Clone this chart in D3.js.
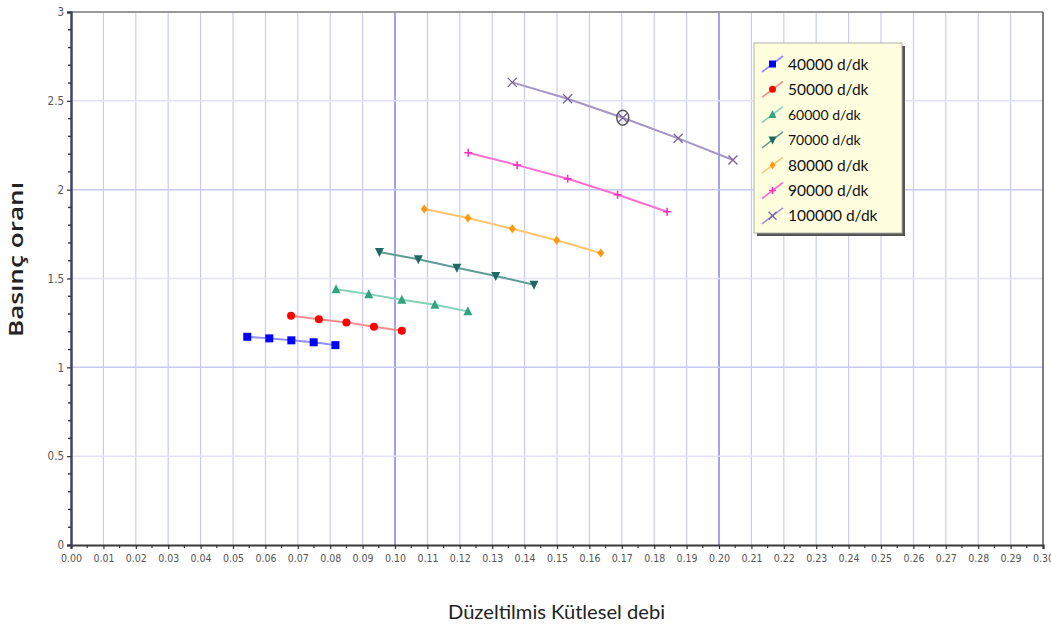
<!DOCTYPE html>
<html>
<head>
<meta charset="utf-8">
<script src="https://cdn.jsdelivr.net/npm/d3@7"></script>
<style>
  html, body { margin: 0; padding: 0; background: #fff; }
  svg { display: block; }
</style>
</head>
<body>
<svg id="chart" width="1051" height="628"></svg>
<script>
// ---- data ----
const seriesNames = ["40000 d/dk", "50000 d/dk", "60000 d/dk", "70000 d/dk", "80000 d/dk", "90000 d/dk", "100000 d/dk"];
const x40 = [0.0544, 0.0612, 0.0680, 0.0749, 0.0816];
const y40 = [1.172, 1.163, 1.152, 1.141, 1.125];
const x50 = [0.0679, 0.0765, 0.0850, 0.0935, 0.1021];
const y50 = [1.290, 1.270, 1.253, 1.228, 1.206];
const x60 = [0.0818, 0.0919, 0.1021, 0.1123, 0.1225];
const y60 = [1.439, 1.412, 1.380, 1.352, 1.315];
const x70 = [0.0952, 0.1072, 0.1191, 0.1311, 0.1429];
const y70 = [1.649, 1.608, 1.561, 1.514, 1.465];
const x80 = [0.1090, 0.1225, 0.1362, 0.1499, 0.1635];
const y80 = [1.891, 1.840, 1.780, 1.715, 1.643];
const x90 = [0.1226, 0.1377, 0.1533, 0.1687, 0.1840];
const y90 = [2.208, 2.138, 2.061, 1.971, 1.876];
const x100 = [0.1362, 0.1533, 0.1703, 0.1874, 0.2043];
const y100 = [2.604, 2.512, 2.405, 2.289, 2.167];
const highlightedPoint = [0.1703, 2.405];
const xTicks = d3.range(0, 31).map(i => i / 100);
const yTicks = [0, 0.5, 1, 1.5, 2, 2.5, 3];
const xTitle = "Düzeltilmis Kütlesel debi";
const yTitle = "Basınç oranı";

(function () {
const xs = [x40, x50, x60, x70, x80, x90, x100];
const ys = [y40, y50, y60, y70, y80, y90, y100];
const markerColors = ["#0000ff", "#ff0000", "#2fa57e", "#1e6a62", "#ff9a10", "#ff2fc0", "#7d62a0"];
const lineColors   = ["#8c8cff", "#ff8c8c", "#86d2b6", "#5e9c94", "#ffc46e", "#ff6fd2", "#a596c4"];
const shapes = ["square", "circle", "triUp", "triDown", "diamond", "plus", "cross"];

const svg = d3.select("#chart");
const pL = 71, pR = 1043, pT = 12, pB = 545;
const x = d3.scaleLinear().domain([0, 0.30]).range([pL, pR]);
const y = d3.scaleLinear().domain([0, 3]).range([pB, pT]);

// ---- grid ----
const g = svg.append("g");
g.selectAll("line.vg").data(xTicks.slice(1, -1)).join("line")
  .attr("x1", d => x(d)).attr("x2", d => x(d)).attr("y1", pT).attr("y2", pB)
  .attr("stroke", (d, i) => ((i + 1) % 10 === 0) ? "#8a8ae8" : "#c6c6fb")
  .attr("stroke-width", (d, i) => ((i + 1) % 10 === 0) ? 1.6 : 1.1);
g.selectAll("line.hg").data(yTicks.slice(1, -1)).join("line")
  .attr("x1", pL).attr("x2", pR).attr("y1", d => y(d)).attr("y2", d => y(d))
  .attr("stroke", d => Number.isInteger(d) ? "#c8c8f2" : "#e2e2f8")
  .attr("stroke-width", 1.5);

// top and right borders
svg.append("line").attr("x1", pL).attr("x2", pR).attr("y1", pT).attr("y2", pT)
  .attr("stroke", "#9a9a9a").attr("stroke-width", 2);
svg.append("line").attr("x1", pR).attr("x2", pR).attr("y1", pT).attr("y2", pB)
  .attr("stroke", "#555566").attr("stroke-width", 1.5);

// ---- x axis ----
const xAxis = d3.axisBottom(x).tickValues(xTicks).tickFormat(d3.format(".2f")).tickSize(4).tickPadding(6);
const gx = svg.append("g").attr("transform", `translate(0,${pB})`).call(xAxis);
gx.select(".domain").attr("stroke", "#3a3a3a").attr("stroke-width", 2.2);
gx.selectAll(".tick line").attr("stroke", "#333").attr("stroke-width", 1.2);
gx.selectAll(".tick text").attr("fill", "#555").attr("font-size", 10.5)
  .attr("font-family", "'Liberation Sans Narrow', 'DejaVu Sans Condensed', 'Liberation Sans', sans-serif");
const xMinor = d3.range(0, 30).map(i => (i + 0.5) / 100);
svg.append("g").selectAll("line").data(xMinor).join("line")
  .attr("x1", d => x(d)).attr("x2", d => x(d)).attr("y1", pB).attr("y2", pB + 3)
  .attr("stroke", "#333").attr("stroke-width", 1.2);

// ---- y axis ----
const yAxis = d3.axisLeft(y).tickValues(yTicks).tickFormat(d => d3.format("")(d)).tickSize(4).tickPadding(3);
const gy = svg.append("g").attr("transform", `translate(${pL},0)`).call(yAxis);
gy.select(".domain").attr("stroke", "#404070").attr("stroke-width", 2.5);
gy.selectAll(".tick line").attr("stroke", "#333").attr("stroke-width", 1.2);
gy.selectAll(".tick text").attr("fill", "#555").attr("font-size", 11.5)
  .attr("font-family", "'Liberation Sans Narrow', 'DejaVu Sans Condensed', 'Liberation Sans', sans-serif");
const yMinor = d3.range(0, 31).map(i => i / 10).filter(v => Math.abs(v * 2 - Math.round(v * 2)) > 1e-6);
svg.append("g").selectAll("line").data(yMinor).join("line")
  .attr("x1", pL - 3).attr("x2", pL).attr("y1", d => y(d)).attr("y2", d => y(d))
  .attr("stroke", "#333").attr("stroke-width", 1.4);

// ---- titles ----
svg.append("text").attr("transform", `translate(23,${(182 + 337) / 2}) rotate(-90)`)
  .attr("text-anchor", "middle").attr("font-family", "'Open Sans', sans-serif")
  .attr("font-weight", 600).attr("font-size", 19).attr("fill", "#222")
  .attr("textLength", 155).attr("lengthAdjust", "spacingAndGlyphs").text(yTitle);
svg.append("text").attr("x", (448 + 665) / 2).attr("y", 619)
  .attr("text-anchor", "middle").attr("font-family", "Lato, 'Open Sans', sans-serif")
  .attr("font-size", 20).attr("fill", "#222")
  .attr("textLength", 217).attr("lengthAdjust", "spacingAndGlyphs").text(xTitle);

// ---- markers ----
function drawMarker(sel, shape, color, cx, cy, s) {
  const h = s / 2;
  if (shape === "square") {
    sel.append("rect").attr("x", cx - h).attr("y", cy - h).attr("width", s).attr("height", s).attr("fill", color);
  } else if (shape === "circle") {
    sel.append("circle").attr("cx", cx).attr("cy", cy).attr("r", h).attr("fill", color);
  } else if (shape === "triUp") {
    sel.append("path").attr("d", `M${cx},${cy - h - 1}L${cx + h + 0.5},${cy + h}L${cx - h - 0.5},${cy + h}Z`).attr("fill", color);
  } else if (shape === "triDown") {
    sel.append("path").attr("d", `M${cx},${cy + h + 1}L${cx + h + 0.5},${cy - h}L${cx - h - 0.5},${cy - h}Z`).attr("fill", color);
  } else if (shape === "diamond") {
    sel.append("path").attr("d", `M${cx},${cy - h - 1}L${cx + h},${cy}L${cx},${cy + h + 1}L${cx - h},${cy}Z`).attr("fill", color);
  } else if (shape === "plus") {
    sel.append("path").attr("d", `M${cx - h},${cy}H${cx + h}M${cx},${cy - h}V${cy + h}`)
      .attr("stroke", color).attr("stroke-width", 1.6).attr("fill", "none");
  } else if (shape === "cross") {
    sel.append("path").attr("d", `M${cx - h},${cy - h}L${cx + h},${cy + h}M${cx - h},${cy + h}L${cx + h},${cy - h}`)
      .attr("stroke", color).attr("stroke-width", 1.3).attr("fill", "none");
  }
}

const line = d3.line().x(d => x(d[0])).y(d => y(d[1]));
const markerSizes = [8, 8, 8, 8, 7, 8, 9];
seriesNames.forEach((name, i) => {
  const pts = xs[i].map((v, j) => [v, ys[i][j]]);
  const sg = svg.append("g");
  sg.append("path").datum(pts).attr("d", line).attr("fill", "none")
    .attr("stroke", lineColors[i]).attr("stroke-width", 2);
  pts.forEach(p => drawMarker(sg, shapes[i], markerColors[i], x(p[0]), y(p[1]), markerSizes[i]));
});

// highlighted point ring
svg.append("ellipse").attr("cx", x(highlightedPoint[0])).attr("cy", y(highlightedPoint[1]))
  .attr("rx", 6).attr("ry", 7.5).attr("fill", "none").attr("stroke", "#555").attr("stroke-width", 1.4);

// ---- legend ----
const lg = svg.append("g");
const lx = 754, ly = 43, lw = 148, lh = 190;
lg.append("rect").attr("x", lx + 3).attr("y", ly + 3).attr("width", lw).attr("height", lh).attr("fill", "#555");
lg.append("rect").attr("x", lx).attr("y", ly).attr("width", lw).attr("height", lh)
  .attr("fill", "#ffffe0").attr("stroke", "#b0b0b0").attr("stroke-width", 1);
seriesNames.forEach((name, i) => {
  const cy = 64 + i * 25.3;
  lg.append("line").attr("x1", 762).attr("y1", cy + 8).attr("x2", 783).attr("y2", cy - 8)
    .attr("stroke", lineColors[i]).attr("stroke-width", 1.6);
  drawMarker(lg, shapes[i], markerColors[i], 772.5, cy, markerSizes[i] - 1);
  lg.append("text").attr("x", 788).attr("y", cy + 5.5)
    .attr("font-family", "Lato, 'Open Sans', sans-serif")
    .attr("font-size", (i === 2 || i === 3) ? 14 : 15.5).attr("fill", "#111").text(name);
});
})();
</script>
</body>
</html>
